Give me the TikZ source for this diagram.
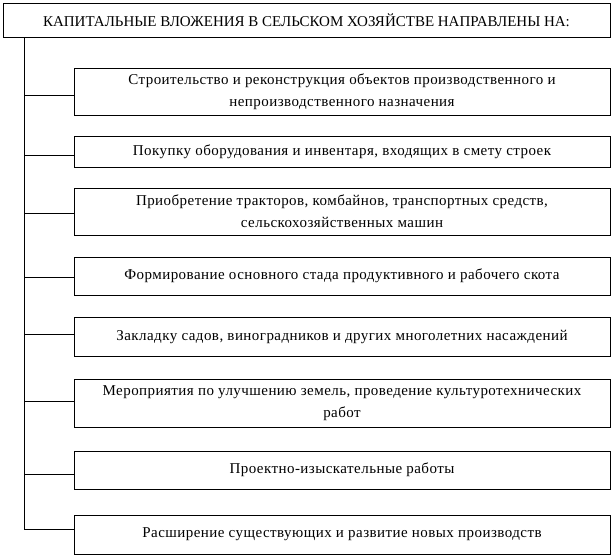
\documentclass[tikz,border=0pt]{standalone}
\usepackage{fontspec}
\setmainfont{Liberation Serif}
\newfontfamily\bodyfont[LetterSpace=3]{Liberation Serif}
\begin{document}
\begin{tikzpicture}[x=1pt,y=1pt,
  box/.style={draw,line width=1pt,minimum width=536pt,align=center,inner sep=0pt,
    font=\bodyfont\fontsize{15}{22}\selectfont},
  titlebox/.style={box,font=\fontsize{15}{22}\selectfont},
  conn/.style={line width=1pt}]
\useasboundingbox (0,0) rectangle (613,-557);
\node[titlebox,minimum width=607pt,minimum height=34pt] (top) at (306.5,-20) {КАПИТАЛЬНЫЕ ВЛОЖЕНИЯ В СЕЛЬСКОМ ХОЗЯЙСТВЕ НАПРАВЛЕНЫ НА:};
\node[box,minimum height=47pt] (b1) at (342,-91.5) {Строительство и реконструкция объектов производственного и\\непроизводственного назначения};
\node[box,minimum height=31pt] (b2) at (342,-151.5) {Покупку оборудования и инвентаря, входящих в смету строек};
\node[box,minimum height=47pt] (b3) at (342,-211.5) {Приобретение тракторов, комбайнов, транспортных средств,\\сельскохозяйственных машин};
\node[box,minimum height=38pt] (b4) at (342,-276) {Формирование основного стада продуктивного и рабочего скота};
\node[box,minimum height=39pt] (b5) at (342,-336.5) {Закладку садов, виноградников и других многолетних насаждений};
\node[box,minimum height=48pt] (b6) at (342,-403) {Мероприятия по улучшению земель, проведение культуротехнических\\работ};
\node[box,minimum height=38pt] (b7) at (342,-470) {Проектно-изыскательные работы};
\node[box,minimum height=39pt] (b8) at (342,-534.5) {Расширение существующих и развитие новых производств};
\coordinate (tx) at (24,0);
\coordinate (tend) at ([yshift=5.5pt]b8.west -| tx);
\draw[conn] (top.south -| tx) -- (tend);
\draw[conn] ([yshift=-3.5pt]b1.west) -- ([yshift=-3.5pt]b1.west -| tx);
\draw[conn] ([yshift=-3.5pt]b2.west) -- ([yshift=-3.5pt]b2.west -| tx);
\draw[conn] ([yshift=-1.5pt]b3.west) -- ([yshift=-1.5pt]b3.west -| tx);
\draw[conn] ([yshift=-1pt]b4.west) -- ([yshift=-1pt]b4.west -| tx);
\draw[conn] ([yshift=2.5pt]b5.west) -- ([yshift=2.5pt]b5.west -| tx);
\draw[conn] ([yshift=2pt]b6.west) -- ([yshift=2pt]b6.west -| tx);
\draw[conn] ([yshift=-4pt]b7.west) -- ([yshift=-4pt]b7.west -| tx);
\draw[conn] ([yshift=5.5pt]b8.west) -- (tend);
\end{tikzpicture}
\end{document}
